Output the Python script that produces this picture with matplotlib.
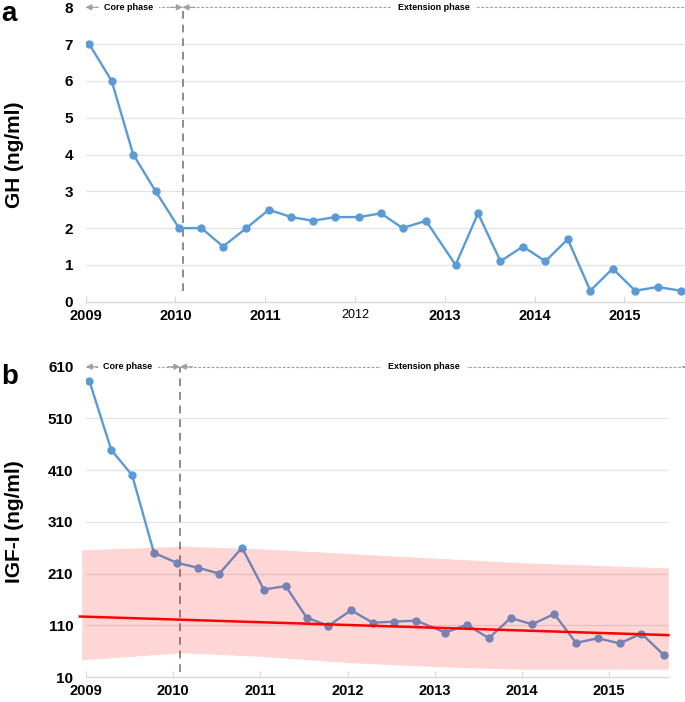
import matplotlib
matplotlib.use('Agg')
import matplotlib.pyplot as plt

plt.rcParams['font.family'] = ['Liberation Sans', 'DejaVu Sans']

# visit dates (decimal years)
dates = [2009.04, 2009.29, 2009.53, 2009.78, 2010.04, 2010.29, 2010.53, 2010.79,
         2011.04, 2011.29, 2011.53, 2011.78, 2012.04, 2012.29, 2012.53, 2012.79,
         2013.12, 2013.37, 2013.62, 2013.87, 2014.12, 2014.37, 2014.62, 2014.87,
         2015.12, 2015.37, 2015.63]

gh = [7, 6, 4, 3, 2, 2, 1.5, 2, 2.5, 2.3, 2.2, 2.3, 2.3, 2.4, 2.0, 2.2,
      1.0, 2.4, 1.1, 1.5, 1.1, 1.7, 0.3, 0.9, 0.3, 0.4, 0.3]

igf = [582, 449, 400, 250, 231, 221, 210, 260, 179, 186, 125, 109, 139, 115,
       117, 119, 96, 111, 85, 124, 112, 132, 76, 85, 75, 94, 52]

# IGF-I normal range band and upper limit of normal line
band_x = [2008.95, 2010.1, 2011, 2012, 2013, 2014, 2015.68]
band_upper = [256, 263, 258, 249, 240, 231, 221]
band_lower = [43, 57, 50, 38, 30, 25, 25]
trend_x = [2008.93, 2015.68]
trend_y = [127, 91]

years = [2009, 2010, 2011, 2012, 2013, 2014, 2015]
gh_ticks = [0, 1, 2, 3, 4, 5, 6, 7, 8]
igf_ticks = [10, 110, 210, 310, 410, 510, 610]

phase_split = 2010.08
x_end = 2015.675

blue = '#5B9BD5'
grey = '#8C8C8C'
grid_col = '#E3E3E3'

fig = plt.figure(figsize=(6.85, 7.02), dpi=100)
ax_a = fig.add_axes([0.125, 0.5702, 0.875, 0.4194])
ax_b = fig.add_axes([0.1255, 0.0356, 0.8497, 0.442])


def style(ax, yticks):
    ax.set_xlim(2009, x_end)
    ax.set_ylim(yticks[0], yticks[-1])
    ax.set_yticks(yticks)
    ax.set_xticks(years)
    for s in ['top', 'right', 'left']:
        ax.spines[s].set_visible(False)
    ax.spines['bottom'].set_color('#D9D9D9')
    ax.spines['bottom'].set_linewidth(1.0)
    ax.tick_params(axis='y', length=0, pad=9, labelsize=11)
    ax.tick_params(axis='x', direction='in', length=4, color='#D9D9D9',
                   pad=5, labelsize=10.5)
    for lab in ax.get_yticklabels() + ax.get_xticklabels():
        lab.set_fontweight('bold')
    for t in yticks[1:-1]:
        ax.axhline(t, color=grid_col, lw=0.9, zorder=0)


def phases(ax, ytop, ybottom):
    ax.plot([phase_split, phase_split], [ybottom, ytop], color=grey, lw=1.4,
            ls=(0, (4, 3)), zorder=1)
    # dashed arrow shafts
    ax.plot([2009.0, phase_split], [ytop, ytop], color='#A0A0A0', lw=0.8,
            ls=(0, (2.5, 1.5)), clip_on=False, zorder=2)
    ax.plot([phase_split, 2015.98], [ytop, ytop], color='#A0A0A0', lw=0.8,
            ls=(0, (2.5, 1.5)), clip_on=False, zorder=2)
    heads = [(2009.0, 9), (phase_split, -9), (phase_split, 9), (2015.98, -9)]
    for hx, off in heads:
        ax.annotate('', xy=(hx, ytop), xytext=(off, 0), textcoords='offset points',
                    arrowprops=dict(arrowstyle='-|>', color='#A0A0A0', lw=0.8,
                                    shrinkA=0, shrinkB=0, mutation_scale=9),
                    annotation_clip=False)
    ax.text(2009.48, ytop, 'Core phase', fontsize=6.5, fontweight='bold',
            ha='center', va='center', zorder=3, clip_on=False,
            bbox=dict(facecolor='white', edgecolor='none', pad=4))
    ax.text(2012.88, ytop, 'Extension phase', fontsize=6.5, fontweight='bold',
            ha='center', va='center', zorder=3, clip_on=False,
            bbox=dict(facecolor='white', edgecolor='none', pad=5))


# a: GH
style(ax_a, gh_ticks)
ax_a.get_xticklabels()[3].set_fontsize(9)
ax_a.get_xticklabels()[3].set_fontweight('normal')
ax_a.plot(dates, gh, color=blue, lw=1.7, marker='o', ms=5, zorder=4)
phases(ax_a, 8, 0.3)
ax_a.set_ylabel('GH (ng/ml)', fontsize=15, fontweight='bold', va='center')
ax_a.yaxis.set_label_coords(-0.118, 0.5)
fig.text(0.002, 0.999, 'a', fontsize=20, fontweight='bold', va='top')

# b: IGF-I
style(ax_b, igf_ticks)
ax_b.plot(dates, igf, color=blue, lw=1.7, marker='o', ms=5, zorder=4)
ax_b.fill_between(band_x, band_lower, band_upper, color='red', alpha=0.16,
                  lw=0, zorder=5, clip_on=False)
ax_b.plot(trend_x, trend_y, color='red', lw=1.8, zorder=6, clip_on=False)
phases(ax_b, 610, 20)
ax_b.set_ylabel('IGF-I (ng/ml)', fontsize=15, fontweight='bold', va='center')
ax_b.yaxis.set_label_coords(-0.122, 0.5)
fig.text(0.002, 0.463, 'b', fontsize=20, fontweight='bold', va='center')

fig.savefig('out.png', dpi=100)
